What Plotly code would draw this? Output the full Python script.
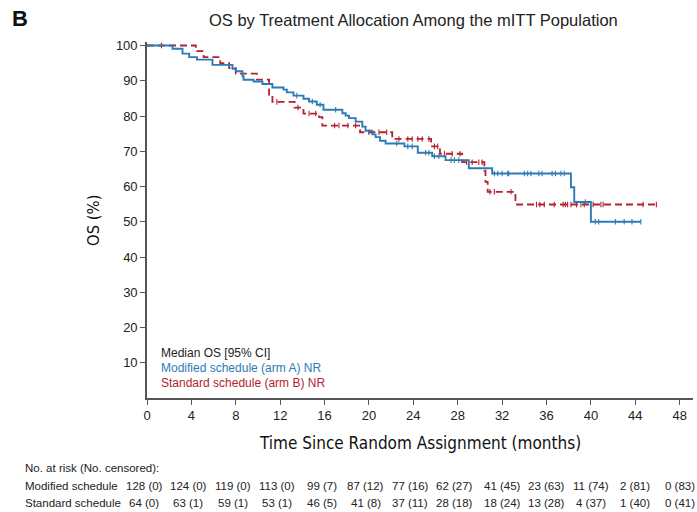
import plotly.graph_objects as go

# ---------------- data ----------------
# Kaplan-Meier step curves (time in months, OS %)
arm_a_t = [0, 2.3, 3.2, 3.8, 4.5, 5.9, 7.7, 8.0, 8.6, 8.7, 9.6, 10.4, 11.3, 12.3, 12.6, 13.2,
           14.1, 14.6, 15.3, 15.9, 17.6, 17.9, 18.2, 18.8, 19.4, 19.7, 20.3, 20.6, 21.0, 21.5,
           23.2, 24.4, 25.7, 26.9, 29.0, 31.1, 38.2, 38.5, 40.0, 44.5]
arm_a_s = [100, 99.1, 97.7, 96.7, 96.0, 94.5, 93.4, 92.7, 91.3, 90.3, 89.8, 89.1, 88.1, 87.5, 86.7, 85.8,
           84.9, 84.1, 83.2, 81.8, 80.8, 80.1, 79.4, 78.4, 77.0, 75.8, 74.8, 74.0, 73.0, 72.2,
           71.4, 69.6, 68.6, 67.5, 65.2, 63.7, 59.8, 55.6, 50.0, 50.0]
arm_a_cens_t = [13.5, 14.9, 15.6, 17.0, 22.5, 23.5, 23.9, 25.1, 25.4, 25.9, 26.3, 27.4, 27.7, 28.1,
                31.3, 31.6, 32.0, 32.5, 32.6, 34.0, 34.3, 34.6, 35.3, 35.6, 36.5, 36.8, 37.3, 37.6,
                39.5, 40.4, 40.7, 42.2, 43.0, 43.7, 44.5]

arm_b_t = [0, 4.4, 5.1, 6.6, 7.4, 8.0, 9.9, 11.0, 11.3, 13.3, 14.1, 15.5, 15.8, 19.2, 22.1,
           25.6, 26.4, 28.4, 30.4, 30.5, 30.7, 33.2, 45.8]
arm_b_s = [100, 98.4, 96.7, 95.0, 93.6, 92.0, 90.3, 86.0, 84.0, 82.4, 80.7, 79.7, 77.3, 75.4, 73.5,
           71.4, 69.3, 66.9, 64.5, 61.3, 58.5, 54.9, 54.9]
arm_b_cens_t = [1.3, 11.7, 13.6, 14.6, 15.2, 16.9, 17.3, 18.1, 18.8, 20.0, 20.9, 21.6,
                22.7, 23.5, 23.9, 24.4, 24.8, 25.4, 25.9, 26.2, 26.8, 27.5, 28.2,
                28.8, 29.3, 29.9, 30.2, 30.9, 31.3, 32.8,
                35.1, 35.4, 35.8, 36.7, 37.5, 37.7, 37.9, 38.2, 38.7, 39.1, 39.4, 40.2,
                40.9, 41.1, 44.7, 45.9]

risk_times = [0, 4, 8, 12, 16, 20, 24, 28, 32, 36, 40, 44, 48]
risk_a = ["128 (0)", "124 (0)", "119 (0)", "113 (0)", "99 (7)", "87 (12)", "77 (16)",
          "62 (27)", "41 (45)", "23 (63)", "11 (74)", "2 (81)", "0 (83)"]
risk_b = ["64 (0)", "63 (1)", "59 (1)", "53 (1)", "46 (5)", "41 (8)", "37 (11)",
          "28 (18)", "18 (24)", "13 (28)", "4 (37)", "1 (40)", "0 (41)"]

x_ticks = list(range(0, 49, 4))
y_ticks = list(range(10, 101, 10))

BLUE = "#2c7bb6"
RED = "#b4222f"
FONT = "Liberation Sans, Arial, Helvetica, sans-serif"
NARROW = "DejaVu Sans Condensed, Arial, sans-serif"


def surv_at(ts, ss, t):
    v = ss[0]
    for ti, si in zip(ts, ss):
        if ti <= t:
            v = si
    return v


W, H = 697, 512
ML, MR, MT, MB = 147, 4, 42, 114
PW, PH = W - ML - MR, H - MT - MB


def px_x(px):
    return (px - ML) / PW


def px_y(py):
    return (H - MB - py) / PH


fig = go.Figure()

fig.add_trace(go.Scatter(x=arm_b_t, y=arm_b_s, mode="lines", line_shape="hv",
                         line=dict(color=RED, width=1.8, dash="7px,4px"),
                         showlegend=False, hoverinfo="skip"))
fig.add_trace(go.Scatter(x=arm_b_cens_t, y=[surv_at(arm_b_t, arm_b_s, t) for t in arm_b_cens_t],
                         mode="markers",
                         marker=dict(symbol="line-ns", size=4, line=dict(color=RED, width=1.1)),
                         showlegend=False, hoverinfo="skip"))
fig.add_trace(go.Scatter(x=arm_a_t, y=arm_a_s, mode="lines", line_shape="hv",
                         line=dict(color=BLUE, width=1.9),
                         showlegend=False, hoverinfo="skip"))
fig.add_trace(go.Scatter(x=arm_a_cens_t, y=[surv_at(arm_a_t, arm_a_s, t) for t in arm_a_cens_t],
                         mode="markers",
                         marker=dict(symbol="line-ns", size=4, line=dict(color=BLUE, width=1.1)),
                         showlegend=False, hoverinfo="skip"))

annotations = []
# panel letter and title
annotations.append(dict(text="<b>B</b>", x=px_x(10), y=px_y(18), xref="paper", yref="paper",
                        xanchor="left", yanchor="middle", showarrow=False,
                        font=dict(family=FONT, size=22, color="#111")))
annotations.append(dict(text="OS by Treatment Allocation Among the mITT Population",
                        x=px_x(413), y=px_y(20), xref="paper", yref="paper",
                        xanchor="center", yanchor="middle", showarrow=False,
                        font=dict(family=FONT, size=16.5, color="#222")))
# axis titles
annotations.append(dict(text="OS (%)", x=px_x(93), y=px_y(220), xref="paper", yref="paper",
                        xanchor="center", yanchor="middle", showarrow=False, textangle=-90,
                        font=dict(family=NARROW, size=16.5, color="#111")))
annotations.append(dict(text="Time Since Random Assignment (months)", x=px_x(420), y=px_y(443),
                        xref="paper", yref="paper", xanchor="center", yanchor="middle",
                        showarrow=False, font=dict(family=NARROW, size=17, color="#111")))
# median legend
for txt, col, py in [("Median OS [95% CI]", "#222", 353),
                     ("Modified schedule (arm A) NR", BLUE, 368),
                     ("Standard schedule (arm B) NR", RED, 383)]:
    annotations.append(dict(text=txt, x=px_x(159), y=px_y(py), xref="paper", yref="paper",
                            xanchor="left", yanchor="middle", showarrow=False,
                            font=dict(family=FONT, size=12, color=col)))
# risk table
annotations.append(dict(text="No. at risk (No. censored):", x=px_x(23), y=px_y(468),
                        xref="paper", yref="paper", xanchor="left", yanchor="middle",
                        showarrow=False, font=dict(family=FONT, size=11.5, color="#222")))
for label, vals, py in [("Modified schedule", risk_a, 486), ("Standard schedule", risk_b, 503)]:
    annotations.append(dict(text=label, x=px_x(23), y=px_y(py), xref="paper", yref="paper",
                            xanchor="left", yanchor="middle", showarrow=False,
                            font=dict(family=FONT, size=11.5, color="#222")))
    for t, v in zip(risk_times, vals):
        annotations.append(dict(text=v, x=t, y=px_y(py), xref="x", yref="paper",
                                xanchor="center", yanchor="middle", showarrow=False,
                                xshift=-3 if t < 30 else 0,
                                font=dict(family=FONT, size=11.5, color="#222")))

fig.update_layout(
    width=W, height=H,
    margin=dict(l=ML, r=MR, t=MT, b=MB),
    paper_bgcolor="white", plot_bgcolor="white",
    annotations=annotations,
    xaxis=dict(range=[0, 49.2], tickvals=x_ticks, ticktext=[str(v) for v in x_ticks],
               showgrid=False, zeroline=False, showline=True, linecolor="#555", linewidth=1.6,
               ticks="outside", ticklen=5, tickcolor="#555", tickwidth=1.2,
               tickfont=dict(family=FONT, size=13, color="#222"), fixedrange=True),
    yaxis=dict(range=[0, 101], tickvals=y_ticks, ticktext=[str(v) for v in y_ticks],
               showgrid=False, zeroline=False, showline=True, linecolor="#555", linewidth=1.6,
               ticks="outside", ticklen=5, tickcolor="#555", tickwidth=1.2,
               tickfont=dict(family=FONT, size=13, color="#222"), fixedrange=True),
)

fig.write_html("out.html", config={"displayModeBar": False})
